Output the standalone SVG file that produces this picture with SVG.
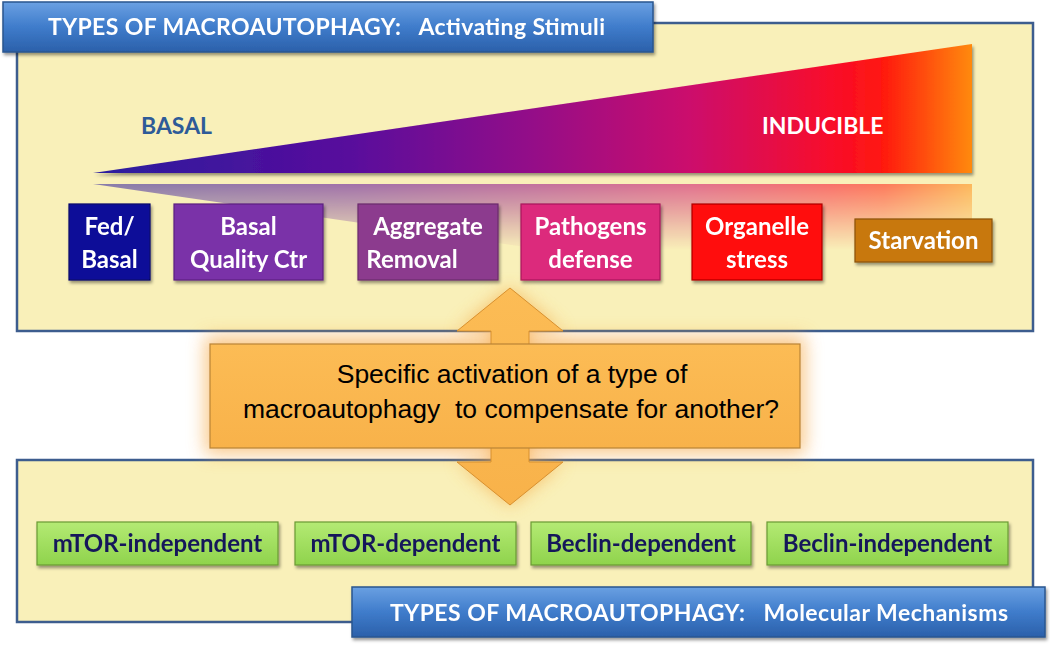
<svg xmlns="http://www.w3.org/2000/svg" width="1050" height="645" viewBox="0 0 1050 645">
<style>
.panel{fill:#f9f0b9;stroke:#3d5d8e;stroke-width:2.5}
.bar{fill:url(#gBar);stroke:#2a568f;stroke-width:1.5}
.bartxt{font-family:Lato,"Liberation Sans",sans-serif;font-weight:bold;font-size:23px;fill:#fff;white-space:pre}
.lbl{font-family:Lato,"Liberation Sans",sans-serif;font-weight:bold;font-size:24px;fill:#fff;text-anchor:middle}
.grn{fill:url(#gGreen);stroke:#6a9a34;stroke-width:1.2}
.gtxt{font-family:Lato,"Liberation Sans",sans-serif;font-weight:bold;font-size:24px;fill:#14195a;text-anchor:middle}
.box{stroke-width:1.2}
.q{font-family:"Liberation Sans",Arial,sans-serif;font-size:26.5px;fill:#000;text-anchor:middle;white-space:pre}
</style>
<defs>
<linearGradient id="gBar" x1="0" y1="0" x2="0" y2="1">
<stop offset="0" stop-color="#6aa0e2"/><stop offset="0.5" stop-color="#3f7ccb"/><stop offset="1" stop-color="#2b60aa"/>
</linearGradient>
<linearGradient id="gTri" x1="93" y1="0" x2="972" y2="0" gradientUnits="userSpaceOnUse">
<stop offset="0" stop-color="#2a1e9e"/><stop offset="0.3" stop-color="#5a0a9c"/><stop offset="0.5" stop-color="#940a88"/><stop offset="0.68" stop-color="#cc0a6c"/><stop offset="0.84" stop-color="#f80a2a"/><stop offset="0.9" stop-color="#ff1a10"/><stop offset="1" stop-color="#ff8a10"/>
</linearGradient>
<linearGradient id="gFade" x1="0" y1="184" x2="0" y2="250" gradientUnits="userSpaceOnUse">
<stop offset="0" stop-color="#fff" stop-opacity="0.55"/><stop offset="1" stop-color="#fff" stop-opacity="0"/>
</linearGradient>
<mask id="mFade" maskUnits="userSpaceOnUse" x="0" y="180" width="1050" height="140">
<rect x="0" y="180" width="1050" height="140" fill="url(#gFade)"/>
</mask>
<linearGradient id="gGreen" x1="0" y1="0" x2="0" y2="1">
<stop offset="0" stop-color="#b4ea74"/><stop offset="1" stop-color="#8fd34c"/>
</linearGradient>
<linearGradient id="gOr" x1="0" y1="0" x2="0" y2="1">
<stop offset="0" stop-color="#fcbc55"/><stop offset="1" stop-color="#f8b24a"/>
</linearGradient>
<filter id="sh" x="-10%" y="-10%" width="125%" height="135%">
<feDropShadow dx="1.5" dy="2.5" stdDeviation="1.5" flood-color="#000" flood-opacity="0.4"/>
</filter>
<filter id="glow" x="-20%" y="-40%" width="140%" height="180%">
<feGaussianBlur stdDeviation="9"/>
</filter>
</defs>

<g id="panel-top">
<rect class="panel" x="17" y="23" width="1016" height="308"/>
</g>
<g id="panel-bottom">
<rect class="panel" x="17" y="460" width="1016" height="162"/>
</g>

<g id="title-top" filter="url(#sh)">
<rect class="bar" x="3" y="2" width="650" height="50"/>
<text class="bartxt" x="48" y="35" textLength="557" xml:space="preserve">TYPES OF MACROAUTOPHAGY:   Activating Stimuli</text>
</g>

<g id="gradient-triangle">
<polygon points="93,184 972,184 972,312" fill="url(#gTri)" mask="url(#mFade)"/>
<polygon points="93,173 972,44 972,173" fill="url(#gTri)" filter="url(#sh)"/>
<text x="141" y="134" font-family="Lato,'Liberation Sans',sans-serif" font-weight="bold" font-size="23" fill="#2e5b98">BASAL</text>
<text x="762" y="134" font-family="Lato,'Liberation Sans',sans-serif" font-weight="bold" font-size="23" fill="#fff">INDUCIBLE</text>
</g>

<g id="fed-basal" filter="url(#sh)">
<rect class="box" x="69" y="204" width="81" height="76" fill="#0b0b98" stroke="#06066a"/>
<text class="lbl" x="109.5" y="235">Fed/</text><text class="lbl" x="109.5" y="268">Basal</text>
</g>
<g id="basal-quality" filter="url(#sh)">
<rect class="box" x="174" y="204" width="149" height="76" fill="#7a30a8" stroke="#5a2080"/>
<text class="lbl" x="248.5" y="235">Basal</text><text class="lbl" x="248.5" y="268">Quality Ctr</text>
</g>
<g id="aggregate-removal" filter="url(#sh)">
<rect class="box" x="358" y="204" width="140" height="76" fill="#8c3b8e" stroke="#6a2a6c"/>
<text class="lbl" x="428" y="235">Aggregate</text><text class="lbl" x="412" y="268">Removal</text>
</g>
<g id="pathogens-defense" filter="url(#sh)">
<rect class="box" x="521" y="204" width="139" height="76" fill="#dc2a7c" stroke="#a81a5a"/>
<text class="lbl" x="590.5" y="235">Pathogens</text><text class="lbl" x="590.5" y="268">defense</text>
</g>
<g id="organelle-stress" filter="url(#sh)">
<rect class="box" x="692" y="204" width="130" height="76" fill="#ff0808" stroke="#b00000"/>
<text class="lbl" x="757" y="235">Organelle</text><text class="lbl" x="757" y="268">stress</text>
</g>
<g id="starvation" filter="url(#sh)">
<rect class="box" x="855" y="219" width="137" height="43" fill="#c8780f" stroke="#8a5008"/>
<text class="lbl" x="923.5" y="249">Starvation</text>
</g>

<g id="connectors">
<rect x="205" y="336" width="600" height="118" fill="#f6a43a" opacity="0.6" filter="url(#glow)"/>
<polygon points="510,288 563,331 529,331 529,462 563,462 510,505 457,462 491,462 491,331 457,331" fill="#f6a43a" opacity="0.65" filter="url(#glow)"/>
<polygon points="510,288 563,331 529,331 529,462 563,462 510,505 457,462 491,462 491,331 457,331" fill="url(#gOr)" stroke="#d8902e" stroke-width="1"/>
</g>

<g id="question-box">
<rect x="210" y="344" width="590" height="104" fill="url(#gOr)" stroke="#b98436" stroke-width="1.2"/>
<text class="q" x="512" y="383">Specific activation of a type of</text>
<text class="q" x="511" y="418" xml:space="preserve">macroautophagy  to compensate for another?</text>
</g>

<g id="mtor-independent" filter="url(#sh)">
<rect class="grn" x="37" y="522" width="241" height="43"/>
<text class="gtxt" x="157.5" y="551.5">mTOR-independent</text>
</g>
<g id="mtor-dependent" filter="url(#sh)">
<rect class="grn" x="295" y="522" width="221" height="43"/>
<text class="gtxt" x="405.5" y="551.5">mTOR-dependent</text>
</g>
<g id="beclin-dependent" filter="url(#sh)">
<rect class="grn" x="531" y="522" width="220" height="43"/>
<text class="gtxt" x="641" y="551.5">Beclin-dependent</text>
</g>
<g id="beclin-independent" filter="url(#sh)">
<rect class="grn" x="767" y="522" width="241" height="43"/>
<text class="gtxt" x="887.5" y="551.5">Beclin-independent</text>
</g>

<g id="title-bottom" filter="url(#sh)">
<rect class="bar" x="352" y="587" width="693" height="50"/>
<text class="bartxt" x="390" y="621" textLength="618" xml:space="preserve">TYPES OF MACROAUTOPHAGY:   Molecular Mechanisms</text>
</g>
</svg>
